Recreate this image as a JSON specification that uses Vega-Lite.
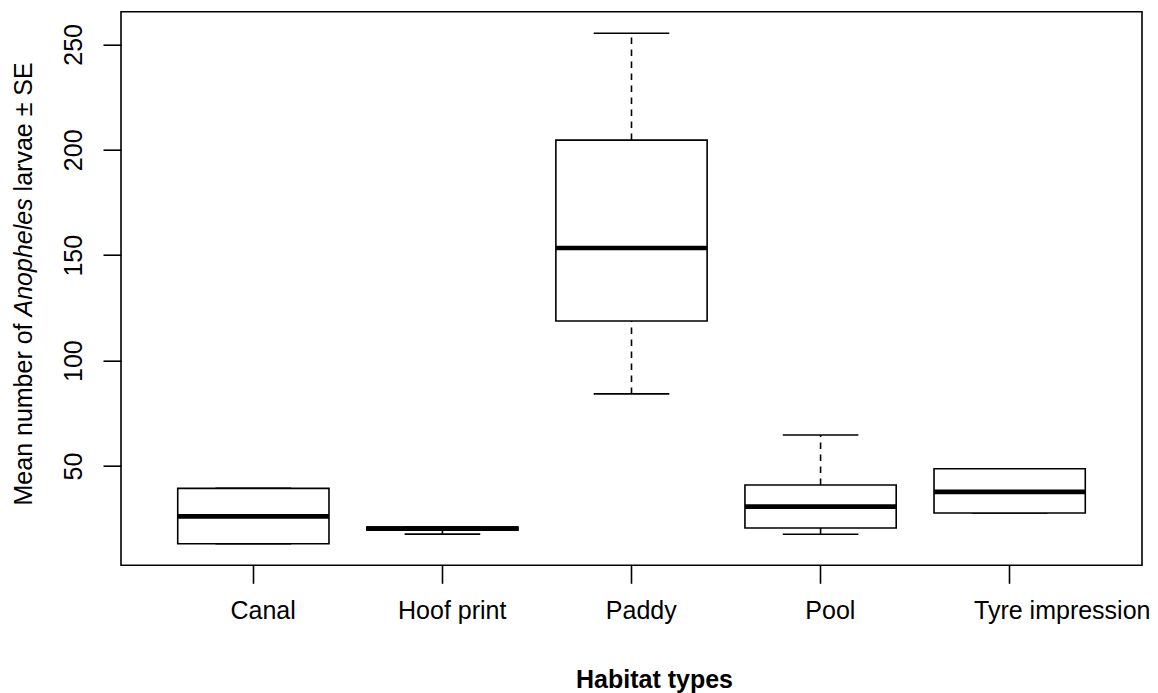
{
  "$schema": "https://vega.github.io/schema/vega-lite/v6.json",
  "width": 1021,
  "height": 553.6,
  "autosize": {"type": "none"},
  "padding": {"left": 121, "top": 11.7, "right": 16, "bottom": 127.7},
  "background": "white",
  "config": {
    "view": {"stroke": "black", "strokeWidth": 1.6},
    "axis": {
      "labelFont": "Liberation Sans",
      "titleFont": "Liberation Sans",
      "labelColor": "black",
      "titleColor": "black",
      "tickColor": "black",
      "labelFontSize": 25,
      "titleFontSize": 25,
      "grid": false,
      "domain": false,
      "tickWidth": 1.6,
      "tickSize": 18,
      "titleFontWeight": "normal"
    }
  },
  "data": {
    "values": [
      {"habitat": "Canal", "lower": 13.1, "q1": 13.1, "median": 26.1, "q3": 39.4, "upper": 39.4},
      {"habitat": "Hoof print", "lower": 17.7, "q1": 19.5, "median": 20.3, "q3": 21.0, "upper": 21.0},
      {"habitat": "Paddy", "lower": 84.2, "q1": 118.8, "median": 153.4, "q3": 204.6, "upper": 255.3},
      {"habitat": "Pool", "lower": 17.6, "q1": 20.6, "median": 30.7, "q3": 41.0, "upper": 64.7},
      {"habitat": "Tyre impression", "lower": 27.7, "q1": 27.7, "median": 37.7, "q3": 48.7, "upper": 48.7}
    ]
  },
  "resolve": {"axis": {"y": "independent"}},
  "layer": [
    {
      "mark": {"type": "rule", "strokeDash": [6.5, 5.5], "strokeWidth": 1.6, "color": "black"},
      "encoding": {
        "x": {"field": "habitat", "type": "nominal", "sort": null, "title": "Habitat types",
              "scale": {"type": "band", "paddingInner": 0.2, "paddingOuter": 0.3},
              "axis": {"orient": "bottom", "labelAngle": 0, "labelBaseline": "alphabetic", "labelPadding": 34.7,
                       "labelOffset": {"condition": {"test": "datum.value === 'Tyre impression'", "value": 52.6}, "value": 9.8},
                       "labelOverlap": false, "labelFlush": false,
                       "title": "Habitat types", "titleFontWeight": "bold", "titleBaseline": "alphabetic",
                       "titleAlign": "center", "titleX": 533, "titleY": 122}},
        "y": {"field": "q3", "type": "quantitative", "scale": {"domain": [2.9, 265.5], "nice": false, "zero": false},
              "axis": {"orient": "left", "labels": false, "ticks": false, "domain": false,
                       "title": "larvae ± SE", "titleAngle": 270, "titleAlign": "left", "titleBaseline": "alphabetic",
                       "titleX": -89.3, "titleY": 179.2}},
        "y2": {"field": "upper"}
      }
    },
    {
      "mark": {"type": "rule", "strokeDash": [6.5, 5.5], "strokeWidth": 1.6, "color": "black"},
      "encoding": {
        "x": {"field": "habitat", "type": "nominal", "sort": null, "title": "Habitat types",
              "scale": {"type": "band", "paddingInner": 0.2, "paddingOuter": 0.3}},
        "y": {"field": "lower", "type": "quantitative", "scale": {"domain": [2.9, 265.5], "nice": false, "zero": false}, "axis": null},
        "y2": {"field": "q1"}
      }
    },
    {
      "mark": {"type": "tick", "size": 75.6, "thickness": 1.6, "color": "black", "opacity": 1},
      "encoding": {
        "x": {"field": "habitat", "type": "nominal", "sort": null, "title": "Habitat types",
              "scale": {"type": "band", "paddingInner": 0.2, "paddingOuter": 0.3}},
        "y": {"field": "upper", "type": "quantitative", "scale": {"domain": [2.9, 265.5], "nice": false, "zero": false}, "axis": null}
      }
    },
    {
      "mark": {"type": "tick", "size": 75.6, "thickness": 1.6, "color": "black", "opacity": 1},
      "encoding": {
        "x": {"field": "habitat", "type": "nominal", "sort": null, "title": "Habitat types",
              "scale": {"type": "band", "paddingInner": 0.2, "paddingOuter": 0.3}},
        "y": {"field": "lower", "type": "quantitative", "scale": {"domain": [2.9, 265.5], "nice": false, "zero": false}, "axis": null}
      }
    },
    {
      "mark": {"type": "bar", "fill": "white", "stroke": "black", "strokeWidth": 1.6, "opacity": 1},
      "encoding": {
        "x": {"field": "habitat", "type": "nominal", "sort": null, "title": "Habitat types",
              "scale": {"type": "band", "paddingInner": 0.2, "paddingOuter": 0.3}},
        "y": {"field": "q1", "type": "quantitative", "scale": {"domain": [2.9, 265.5], "nice": false, "zero": false},
              "axis": {"orient": "left", "values": [50, 100, 150, 200, 250], "labelAngle": 270, "labelAlign": "center",
                       "labelBaseline": "alphabetic", "labelPadding": 21.3,
                       "title": "Mean number of", "titleAngle": 270, "titleAlign": "left", "titleBaseline": "alphabetic",
                       "titleX": -89.3, "titleY": 493.3}},
        "y2": {"field": "q3"}
      }
    },
    {
      "mark": {"type": "tick", "size": 151.3, "thickness": 4.7, "color": "black", "opacity": 1},
      "encoding": {
        "x": {"field": "habitat", "type": "nominal", "sort": null, "title": "Habitat types",
              "scale": {"type": "band", "paddingInner": 0.2, "paddingOuter": 0.3}},
        "y": {"field": "median", "type": "quantitative", "scale": {"domain": [2.9, 265.5], "nice": false, "zero": false},
              "axis": {"orient": "left", "labels": false, "ticks": false, "domain": false,
                       "title": "Anopheles", "titleFontStyle": "italic", "titleAngle": 270, "titleAlign": "left",
                       "titleBaseline": "alphabetic", "titleX": -89.3, "titleY": 304.3}}
      }
    }
  ]
}
